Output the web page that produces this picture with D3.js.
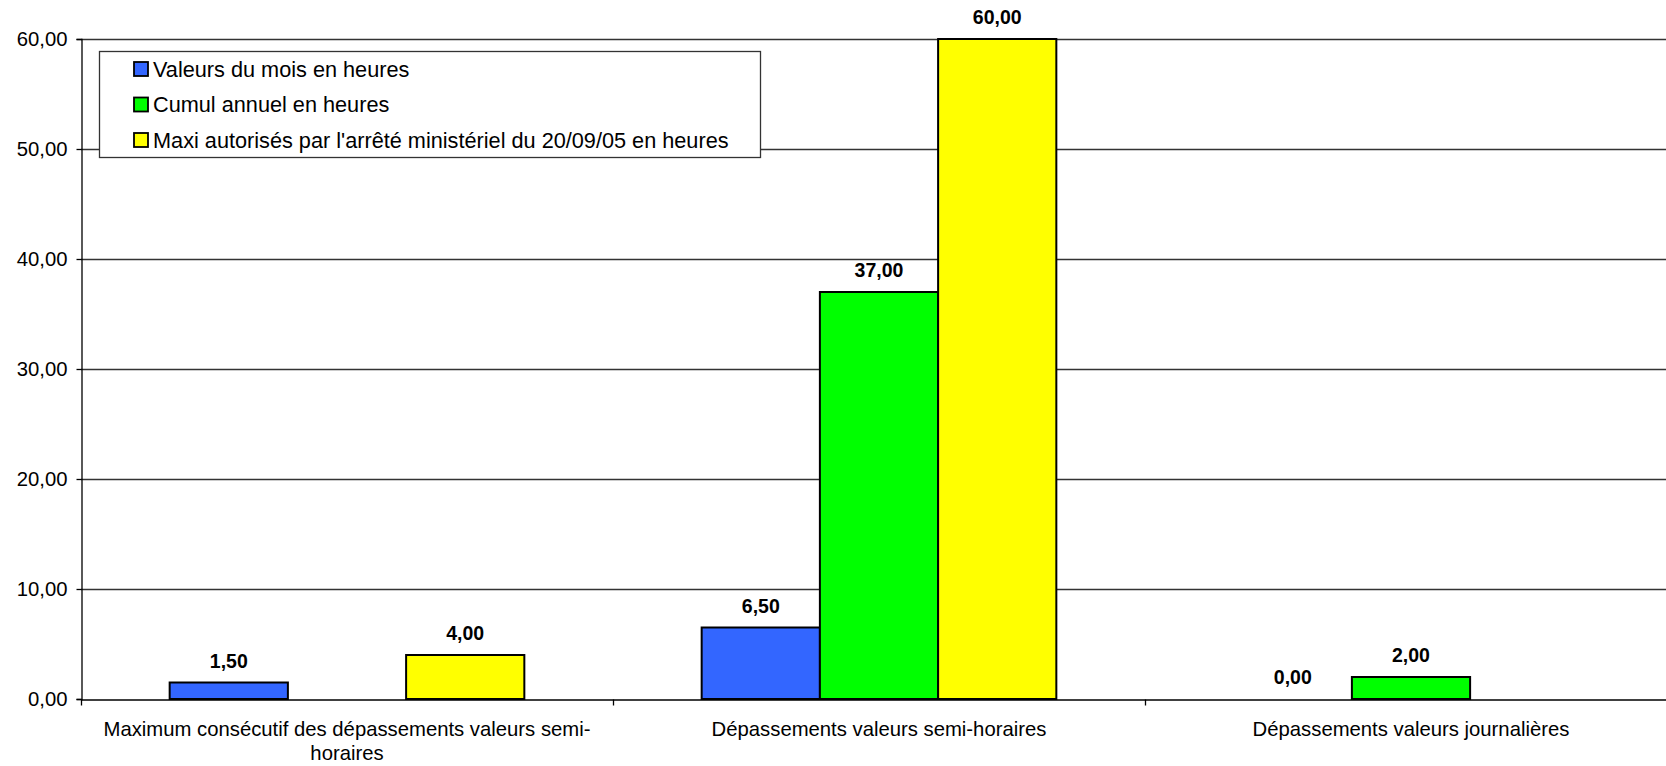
<!DOCTYPE html>
<html>
<head>
<meta charset="utf-8">
<script src="https://cdn.jsdelivr.net/npm/d3@7"></script>
<style>
  html, body { margin: 0; padding: 0; background: #fff; }
  svg { display: block; }
  text { font-family: "Liberation Sans", Arial, sans-serif; fill: #000; }
</style>
</head>
<body>
<svg id="chart" width="1666" height="766"></svg>
<script>
const categories = [
  "Maximum consécutif des dépassements valeurs semi-horaires",
  "Dépassements valeurs semi-horaires",
  "Dépassements valeurs journalières"
];
const seriesNames = [
  "Valeurs du mois en heures",
  "Cumul annuel en heures",
  "Maxi autorisés par l'arrêté ministériel du 20/09/05 en heures"
];
const valeursMois = [1.5, 6.5, 0.0];
const cumulAnnuel = [null, 37.0, 2.0];
const maxiAutorises = [4.0, 60.0, null];
const yTicks = [0, 10, 20, 30, 40, 50, 60];
const seriesColors = ["#3366FF", "#00FF00", "#FFFF00"];

const seriesValues = [valeursMois, cumulAnnuel, maxiAutorises];

const svg = d3.select("#chart");
const plot = { left: 81, right: 1677, top: 39, bottom: 699 };

const fmt = v => d3.format(".2f")(v).replace(".", ",");

const x0 = d3.scaleBand().domain(categories).range([plot.left, plot.right]).paddingInner(0).paddingOuter(0);
const innerPad = 0.75 / 4.5;
const x1 = d3.scaleBand().domain(d3.range(seriesNames.length))
  .range([x0.bandwidth() * innerPad, x0.bandwidth() * (1 - innerPad)]).padding(0);
const y = d3.scaleLinear().domain([0, 60]).range([plot.bottom, plot.top]);

// gridlines
svg.append("g").selectAll("line").data(yTicks.filter(d => d > 0)).join("line")
  .attr("x1", plot.left).attr("x2", plot.right)
  .attr("y1", d => Math.round(y(d)) + 0.5).attr("y2", d => Math.round(y(d)) + 0.5)
  .attr("stroke", "#333").attr("stroke-width", 1.3);

// bars
const groups = svg.append("g").selectAll("g").data(categories).join("g")
  .attr("transform", c => `translate(${x0(c)},0)`);
groups.each(function(c, ci) {
  const g = d3.select(this);
  seriesValues.forEach((vals, si) => {
    const v = vals[ci];
    if (v === null || v === undefined) return;
    if (v > 0) {
      g.append("rect")
        .attr("x", x1(si)).attr("width", x1.bandwidth())
        .attr("y", y(v)).attr("height", y(0) - y(v))
        .attr("fill", seriesColors[si]).attr("stroke", "#000").attr("stroke-width", 2);
    }
    g.append("text")
      .attr("x", x1(si) + x1.bandwidth() / 2)
      .attr("y", y(v) - 15)
      .attr("text-anchor", "middle")
      .attr("font-size", 19.5).attr("font-weight", "bold")
      .text(fmt(v));
  });
});

// y axis
const yAxis = d3.axisLeft(y).tickValues(yTicks).tickSize(5).tickPadding(9).tickFormat(fmt);
const ya = svg.append("g").attr("transform", `translate(${plot.left + 0.5},0)`).call(yAxis);
ya.select(".domain").attr("stroke", "#000").attr("stroke-width", 1.3);
ya.selectAll(".tick line").attr("stroke", "#000").attr("stroke-width", 1.3);
ya.selectAll(".tick text").attr("font-size", 20.3).attr("font-family", "Liberation Sans, Arial, sans-serif").attr("fill", "#000");

// x axis
const xAxis = d3.axisBottom(x0).tickSize(0).tickFormat("");
const xa = svg.append("g").attr("transform", `translate(0,${plot.bottom + 0.5})`).call(xAxis);
xa.select(".domain").attr("stroke", "#000").attr("stroke-width", 1.3);
xa.selectAll(".tick").remove();
// category boundary ticks
const bounds = categories.map(c => x0(c)).concat([plot.right]);
xa.selectAll("line.bt").data(bounds).join("line").attr("class", "bt")
  .attr("x1", d => Math.round(d) + 0.5).attr("x2", d => Math.round(d) + 0.5)
  .attr("y1", 0).attr("y2", 6).attr("stroke", "#000").attr("stroke-width", 1.3);

// category labels with wrapping
function wrapTokens(str) {
  return str.split(/(?<=-)|(?= )/);
}
const maxW = 510;
const labelG = svg.append("g");
categories.forEach(c => {
  const cx = x0(c) + x0.bandwidth() / 2;
  const t = labelG.append("text").attr("text-anchor", "middle").attr("font-size", 20.3)
    .attr("x", cx).attr("y", 736);
  const tokens = wrapTokens(c);
  let lines = [], cur = "";
  const probe = labelG.append("text").attr("font-size", 20.3);
  tokens.forEach(tok => {
    const test = cur + tok;
    probe.text(test.trim());
    if (probe.node().getComputedTextLength() > maxW && cur.trim() !== "") {
      lines.push(cur.trim());
      cur = tok;
    } else cur = test;
  });
  lines.push(cur.trim());
  probe.remove();
  lines.forEach((ln, i) => {
    t.append("tspan").attr("x", cx).attr("dy", i === 0 ? 0 : 24).text(ln);
  });
});

// legend
const leg = svg.append("g");
leg.append("rect").attr("x", 99.5).attr("y", 51.5).attr("width", 661).attr("height", 106)
  .attr("fill", "#fff").attr("stroke", "#333").attr("stroke-width", 1.3);
const legRows = [69, 104.5, 140];
seriesNames.forEach((name, i) => {
  leg.append("rect").attr("x", 134).attr("y", legRows[i] - 7).attr("width", 14).attr("height", 14)
    .attr("fill", seriesColors[i]).attr("stroke", "#000").attr("stroke-width", 1.8);
  leg.append("text").attr("x", 153).attr("y", legRows[i] + 7.5).attr("font-size", 21.7).text(name);
});
</script>
</body>
</html>
